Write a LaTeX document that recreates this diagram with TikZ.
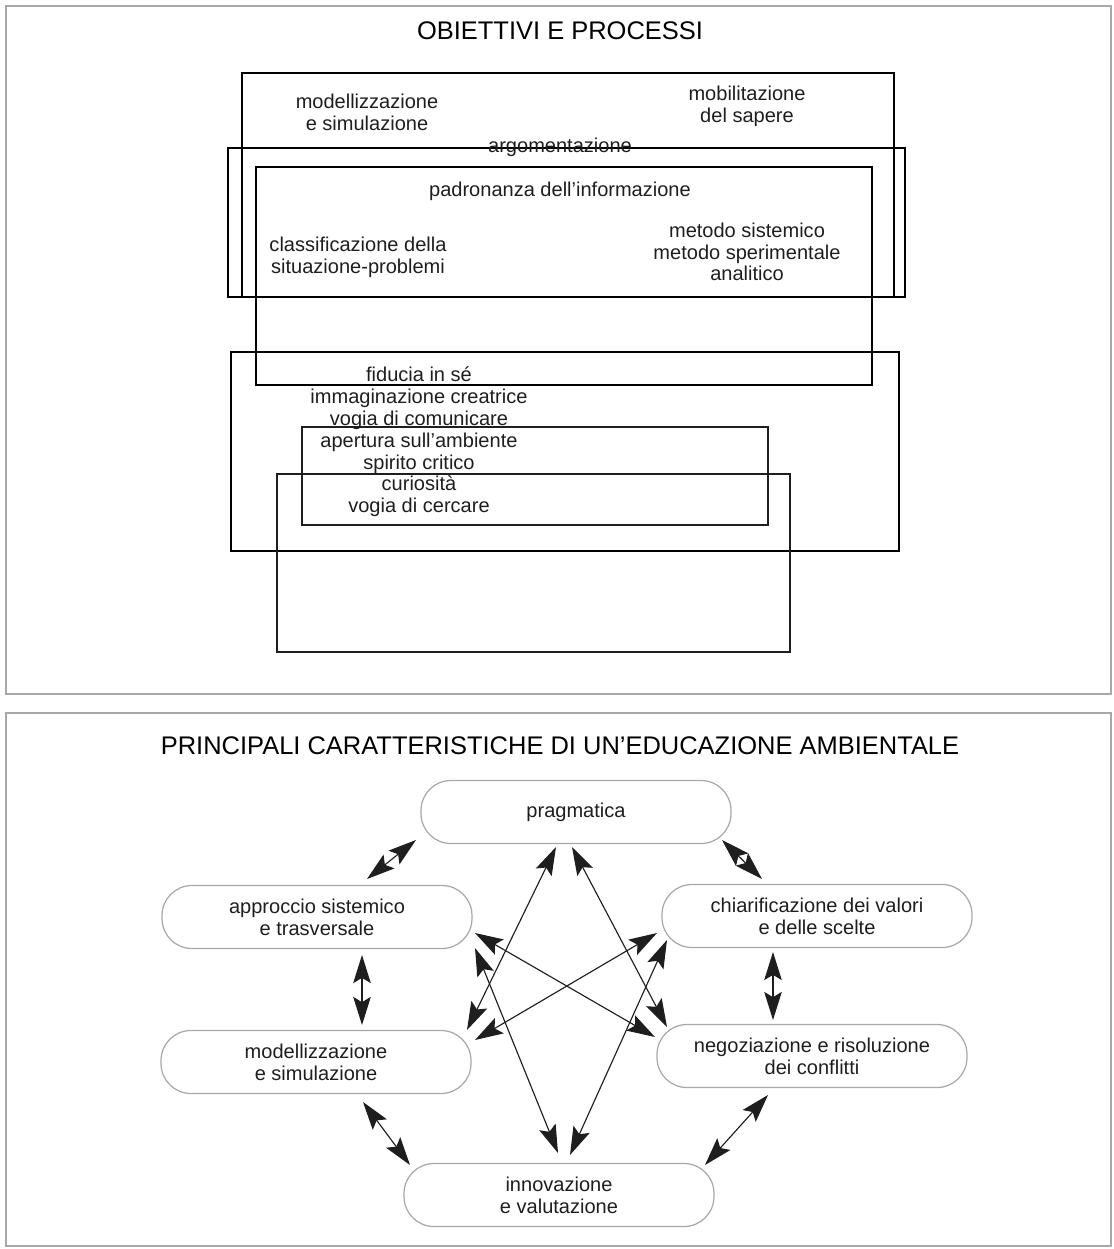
\documentclass[tikz,border=0pt]{standalone}
\usepackage{fontspec}
\setmainfont{Liberation Sans}
\usepackage{tikz}
\usetikzlibrary{arrows.meta}
\definecolor{frame}{HTML}{A8A8A8}
\definecolor{ink}{HTML}{1E1E1E}
\tikzset{
  panel/.style={draw=frame, line width=0.6pt},
  area/.style={draw=black, line width=1.1pt},
  areathin/.style={draw=ink, line width=0.8pt},
  title/.style={text=black, font=\fontsize{14.5}{17}\selectfont, inner sep=0pt},
  lab/.style={text=ink, font=\fontsize{11.4}{12.4}\selectfont, align=center, inner sep=0pt},
  pill/.style={lab, draw=frame, line width=0.7pt, rounded corners=17pt,
    minimum width=6.2cm, minimum height=1.26cm},
  link/.style={draw=ink, line width=0.65pt, <->, >={Stealth[length=16pt,width=10pt,inset=3pt]}},
}

\begin{document}
\begin{tikzpicture}[x=0.02cm, y=-0.02cm]
  \useasboundingbox (0,0) rectangle (1114,1249);

  % obiettivi e processi
  \draw[panel] (6,6) rectangle (1111,694);
  \node[title] (tobj) at (560,31) {OBIETTIVI E PROCESSI};

  \draw[area] (242,73) rectangle (894,297);
  \draw[area] (228,148) rectangle (905,297);
  \draw[area] (256,167) rectangle (872,385);
  \draw[area] (231,352) rectangle (899,551);
  \draw[areathin] (302,427) rectangle (768,525);
  \draw[areathin] (277,474) rectangle (790,652);

  \node[lab] (omod) at (367,112) {modellizzazione\\e simulazione};
  \node[lab] (omob) at (747,106) {mobilitazione\\del sapere};
  \node[lab] (oarg) at (560,147) {argomentazione};
  \node[lab] (opad) at (560,191) {padronanza dell'informazione};
  \node[lab] (ocla) at (358,257) {classificazione della\\situazione-problemi};
  \node[lab] (omet) at (747,252) {metodo sistemico\\metodo sperimentale\\analitico};
  \node[lab] (ofid) at (419,442) {fiducia in sé\\immaginazione creatrice\\vogia di comunicare\\apertura sull'ambiente\\spirito critico\\curiosità\\vogia di cercare};

  % caratteristiche
  \draw[panel] (6,713) rectangle (1111,1246);
  \node[title] (tcar) at (560,746) {PRINCIPALI CARATTERISTICHE DI UN'EDUCAZIONE AMBIENTALE};

  \node[pill] (prag)  at (576,812)  {pragmatica};
  \node[pill] (appr)  at (317,917)  {approccio sistemico\\e trasversale};
  \node[pill] (chiar) at (817,916)  {chiarificazione dei valori\\e delle scelte};
  \node[pill] (model) at (316,1062) {modellizzazione\\e simulazione};
  \node[pill] (negoz) at (812,1056) {negoziazione e risoluzione\\dei conflitti};
  \node[pill] (innov) at (559,1195) {innovazione\\e valutazione};

  \draw[link] ([shift={(-160,28)}]prag.center) -- ([shift={(50,-38)}]appr.center);
  \draw[link] ([shift={(146,28)}]prag.center) -- ([shift={(-55,-37)}]chiar.center);
  \draw[link] ([shift={(45,38)}]appr.center) -- ([shift={(46,-37)}]model.center);
  \draw[link] ([shift={(-44,36)}]chiar.center) -- ([shift={(-39,-36)}]negoz.center);
  \draw[link] ([shift={(47,40)}]model.center) -- ([shift={(-149,-30)}]innov.center);
  \draw[link] ([shift={(-44,39)}]negoz.center) -- ([shift={(146,-30)}]innov.center);

  \draw[link] ([shift={(-20,35)}]prag.center) -- ([shift={(151,-32)}]model.center);
  \draw[link] ([shift={(-4,35)}]prag.center) -- ([shift={(-145,-29)}]negoz.center);
  \draw[link] ([shift={(158,16)}]appr.center) -- ([shift={(-157,-19)}]negoz.center);
  \draw[link] ([shift={(-160,17)}]chiar.center) -- ([shift={(159,-22)}]model.center);
  \draw[link] ([shift={(158,31)}]appr.center) -- ([shift={(-1,-42)}]innov.center);
  \draw[link] ([shift={(-150,24)}]chiar.center) -- ([shift={(11,-40)}]innov.center);
\end{tikzpicture}
\end{document}
